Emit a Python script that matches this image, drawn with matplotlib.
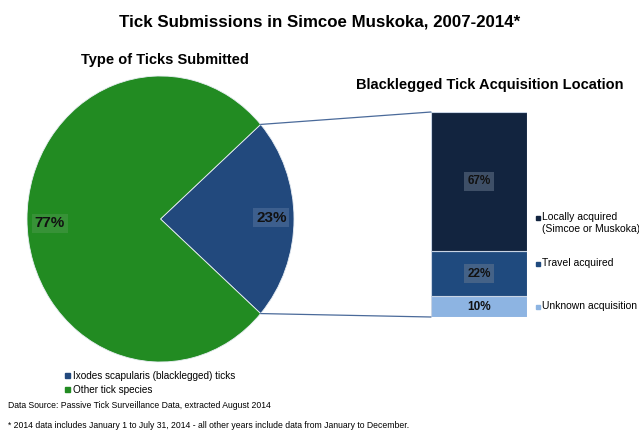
import matplotlib
matplotlib.use("Agg")
import matplotlib.pyplot as plt
from matplotlib.patches import ConnectionPatch, Patch
import numpy as np

plt.rcParams['font.family'] = ['Liberation Sans', 'DejaVu Sans']

# pie data
pie_labels = ['Ixodes scapularis (blacklegged) ticks', 'Other tick species']
pie_vals = [23, 77]
pie_colors = ['#22497d', '#228b22']

# bar data (acquisition location of blacklegged ticks)
bar_labels = ['Unknown acquisition', 'Travel acquired', 'Locally acquired\n(Simcoe or Muskoka)']
bar_vals = [10, 22, 67]
bar_colors = ['#8db4e2', '#1f4a7e', '#12243f']

W, H = 639, 432
fig = plt.figure(figsize=(W / 100, H / 100), dpi=100)

def box(x0, y0, w, h):
    return [x0 / W, 1 - (y0 + h) / H, w / W, h / H]

# pie (slightly stretched, as in the original)
ax1 = fig.add_axes(box(27, 76, 267, 286))
start = -pie_vals[0] / 100 * 360 / 2
wedges, _ = ax1.pie(pie_vals, colors=pie_colors, startangle=start,
                    wedgeprops=dict(edgecolor='#e8eef4', linewidth=0.6))
ax1.set_xlim(-1, 1)
ax1.set_ylim(-1, 1)
ax1.set_aspect('auto')
ax1.text(0.83, 0.01, '23%', ha='center', va='center', fontsize=11, fontweight='bold',
         color='#111111', bbox=dict(facecolor='#3d5f8e', edgecolor='none', pad=2))
ax1.text(-0.83, -0.03, '77%', ha='center', va='center', fontsize=11, fontweight='bold',
         color='#111111', bbox=dict(facecolor='#379237', edgecolor='none', pad=2))

# stacked bar
ax2 = fig.add_axes(box(431, 112, 96, 205))
bottom = 0
for v, c in zip(bar_vals, bar_colors):
    ax2.bar(0, v, bottom=bottom, width=1, color=c, edgecolor='#c8d4e4', linewidth=0.8)
    ax2.text(0, bottom + v / 2, '%d%%' % v, ha='center', va='center', fontsize=8.5,
             fontweight='bold', color='#111111',
             bbox=dict(facecolor='#6a7a90', alpha=0.5 if c != '#8db4e2' else 0.0,
                       edgecolor='none', pad=2.5))
    bottom += v
ax2.set_xlim(-0.5, 0.5)
ax2.set_ylim(0, sum(bar_vals))
ax2.axis('off')

# connecting lines
for th, yb in [(wedges[0].theta2, sum(bar_vals)), (wedges[0].theta1, 0)]:
    p = (np.cos(np.radians(th)), np.sin(np.radians(th)))
    con = ConnectionPatch(xyA=(-0.5, yb), coordsA=ax2.transData,
                          xyB=p, coordsB=ax1.transData, color='#4a6a9a', linewidth=0.9)
    fig.add_artist(con)

# titles
fig.text(320 / W, 1 - 22 / H, 'Tick Submissions in Simcoe Muskoka, 2007-2014*',
         ha='center', va='center', fontsize=12.2, fontweight='bold')
fig.text(165 / W, 1 - 60 / H, 'Type of Ticks Submitted', ha='center', va='center',
         fontsize=10.5, fontweight='bold')
fig.text(490 / W, 1 - 85 / H, 'Blacklegged Tick Acquisition Location', ha='center',
         va='center', fontsize=10.5, fontweight='bold')

# legends
h1 = [Patch(color=c) for c in pie_colors]
fig.legend(h1, pie_labels, loc='upper left', bbox_to_anchor=(60 / W, 1 - 366 / H),
           frameon=False, fontsize=7.2, handlelength=0.5, handleheight=0.5,
           handletextpad=0.3, labelspacing=0.4, borderpad=0)

leg_y = [307, 264, 218]
for lab, c, y in zip(bar_labels, bar_colors, leg_y):
    fig.patches.append(plt.Rectangle((536 / W, 1 - (y + 2) / H), 4 / W, 4 / H,
                                     color=c, transform=fig.transFigure))
    fig.text(542 / W, 1 - (y - 6) / H, lab, ha='left', va='top',
             fontsize=7.5, linespacing=1.2)

fig.text(8 / W, 1 - 405 / H, 'Data Source: Passive Tick Surveillance Data, extracted August 2014',
         fontsize=6.2, va='center')
fig.text(8 / W, 1 - 425 / H,
         '* 2014 data includes January 1 to July 31, 2014 - all other years include data from January to December.',
         fontsize=6.2, va='center')

fig.savefig('out.png', dpi=100)
